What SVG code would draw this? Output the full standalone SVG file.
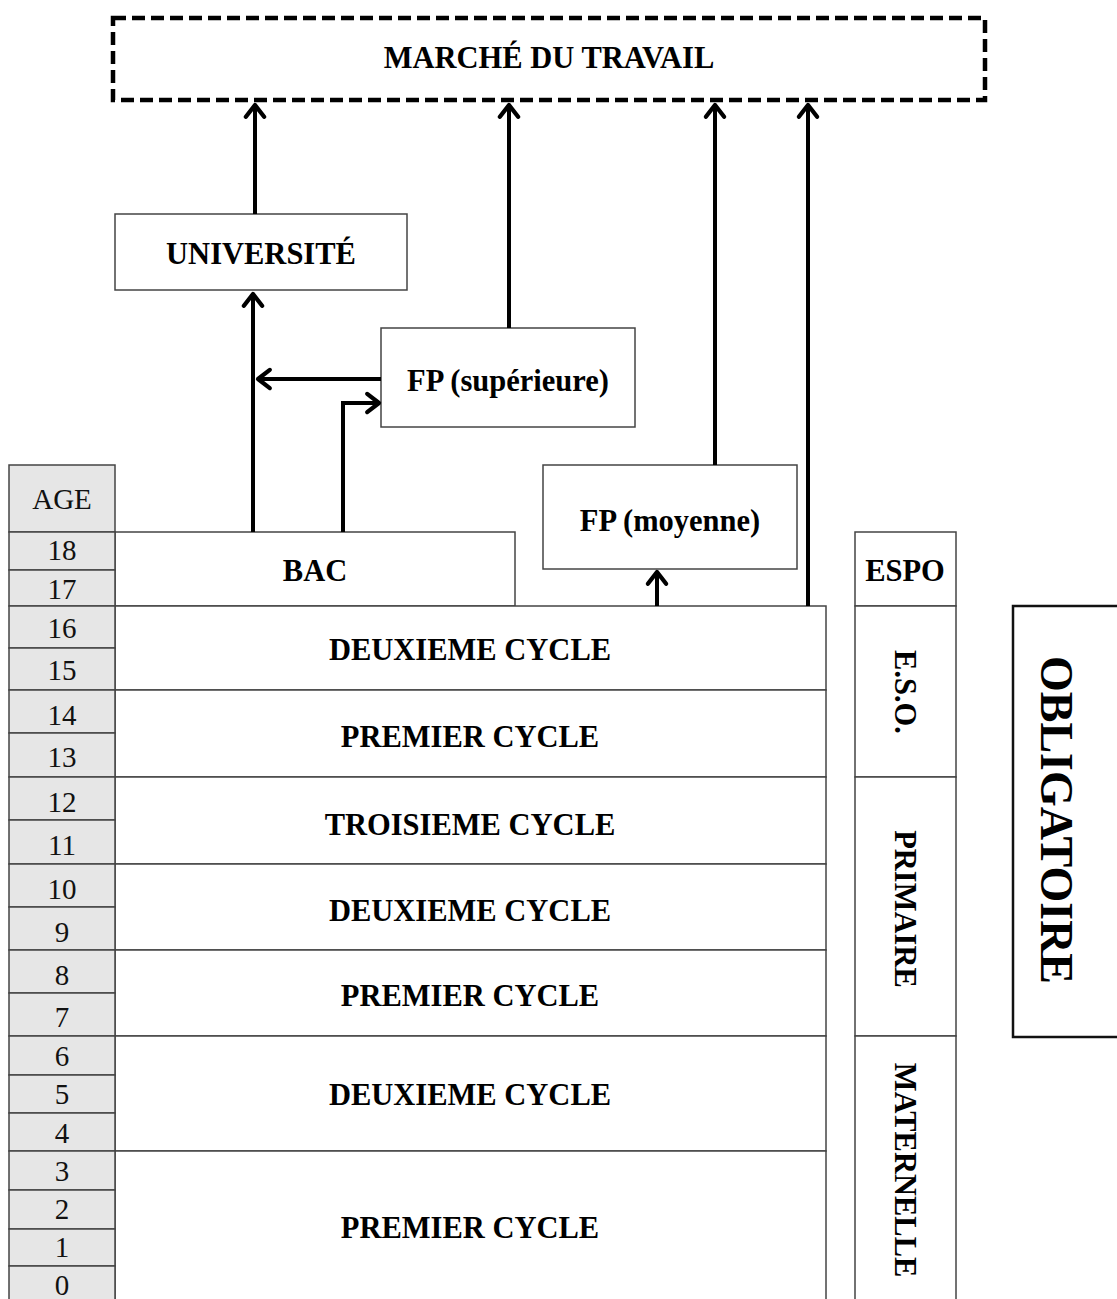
<svg xmlns="http://www.w3.org/2000/svg" width="1117" height="1299" viewBox="0 0 1117 1299">
<style>
  .box{fill:#fff;stroke:#444;stroke-width:1.5}
  .age{fill:#e6e6e6;stroke:#444;stroke-width:1.5}
  .lbl{font-family:"Liberation Serif","Times New Roman",serif;font-weight:bold;font-size:30.5px;fill:#000;text-anchor:middle}
  .num{font-family:"Liberation Serif","Times New Roman",serif;font-size:29px;fill:#111;text-anchor:middle}
  .conn{fill:none;stroke:#000;stroke-width:4}
</style>
<defs>
  <marker id="arr" markerUnits="userSpaceOnUse" markerWidth="30" markerHeight="30" viewBox="-16 -14 20 28" refX="0" refY="0" orient="auto">
    <path d="M -11 -8.5 L 0 0 L -11 8.5" fill="none" stroke="#000" stroke-width="4" stroke-linecap="round" stroke-linejoin="round"/>
  </marker>
</defs>
<rect width="1117" height="1299" fill="#fff"/>

<g id="marche">
  <rect x="113" y="18" width="872" height="82" fill="#fff" stroke="#000" stroke-width="4.5" stroke-dasharray="13 6"/>
  <text class="lbl" x="549" y="68">MARCHÉ DU TRAVAIL</text>
</g>

<g id="universite">
  <rect class="box" x="115" y="214" width="292" height="76"/>
  <text class="lbl" x="261" y="264">UNIVERSITÉ</text>
</g>

<g id="fp-superieure">
  <rect class="box" x="381" y="328" width="254" height="99"/>
  <text class="lbl" x="508" y="391">FP (supérieure)</text>
</g>

<g id="fp-moyenne">
  <rect class="box" x="543" y="465" width="254" height="104"/>
  <text class="lbl" x="670" y="531">FP (moyenne)</text>
</g>

<g id="bac">
  <rect class="box" x="115" y="532" width="400" height="74"/>
  <text class="lbl" x="315" y="581">BAC</text>
</g>

<g id="eso-deuxieme">
  <rect class="box" x="115" y="606" width="711" height="84"/>
  <text class="lbl" x="470" y="660">DEUXIEME CYCLE</text>
</g>
<g id="eso-premier">
  <rect class="box" x="115" y="690" width="711" height="87"/>
  <text class="lbl" x="470" y="747">PREMIER CYCLE</text>
</g>
<g id="primaire-troisieme">
  <rect class="box" x="115" y="777" width="711" height="87"/>
  <text class="lbl" x="470" y="835">TROISIEME CYCLE</text>
</g>
<g id="primaire-deuxieme">
  <rect class="box" x="115" y="864" width="711" height="86"/>
  <text class="lbl" x="470" y="921">DEUXIEME CYCLE</text>
</g>
<g id="primaire-premier">
  <rect class="box" x="115" y="950" width="711" height="86"/>
  <text class="lbl" x="470" y="1006">PREMIER CYCLE</text>
</g>
<g id="maternelle-deuxieme">
  <rect class="box" x="115" y="1036" width="711" height="115"/>
  <text class="lbl" x="470" y="1105">DEUXIEME CYCLE</text>
</g>
<g id="maternelle-premier">
  <rect class="box" x="115" y="1151" width="711" height="160"/>
  <text class="lbl" x="470" y="1238">PREMIER CYCLE</text>
</g>

<g id="age-column">
  <rect class="age" x="9" y="465" width="106" height="67"/>
  <text class="num" x="62" y="509">AGE</text>
  <rect class="age" x="9" y="532" width="106" height="38"/><text class="num" x="62" y="560">18</text>
  <rect class="age" x="9" y="570" width="106" height="36"/><text class="num" x="62" y="599">17</text>
  <rect class="age" x="9" y="606" width="106" height="42"/><text class="num" x="62" y="638">16</text>
  <rect class="age" x="9" y="648" width="106" height="42"/><text class="num" x="62" y="680">15</text>
  <rect class="age" x="9" y="690" width="106" height="43"/><text class="num" x="62" y="725">14</text>
  <rect class="age" x="9" y="733" width="106" height="44"/><text class="num" x="62" y="767">13</text>
  <rect class="age" x="9" y="777" width="106" height="43"/><text class="num" x="62" y="812">12</text>
  <rect class="age" x="9" y="820" width="106" height="44"/><text class="num" x="62" y="855">11</text>
  <rect class="age" x="9" y="864" width="106" height="43"/><text class="num" x="62" y="899">10</text>
  <rect class="age" x="9" y="907" width="106" height="43"/><text class="num" x="62" y="942">9</text>
  <rect class="age" x="9" y="950" width="106" height="43"/><text class="num" x="62" y="985">8</text>
  <rect class="age" x="9" y="993" width="106" height="43"/><text class="num" x="62" y="1027">7</text>
  <rect class="age" x="9" y="1036" width="106" height="39"/><text class="num" x="62" y="1066">6</text>
  <rect class="age" x="9" y="1075" width="106" height="38"/><text class="num" x="62" y="1104">5</text>
  <rect class="age" x="9" y="1113" width="106" height="38"/><text class="num" x="62" y="1143">4</text>
  <rect class="age" x="9" y="1151" width="106" height="39"/><text class="num" x="62" y="1181">3</text>
  <rect class="age" x="9" y="1190" width="106" height="39"/><text class="num" x="62" y="1219">2</text>
  <rect class="age" x="9" y="1229" width="106" height="37"/><text class="num" x="62" y="1257">1</text>
  <rect class="age" x="9" y="1266" width="106" height="45"/><text class="num" x="62" y="1295">0</text>
</g>

<g id="espo">
  <rect class="box" x="855" y="532" width="101" height="74"/>
  <text class="lbl" x="905" y="581">ESPO</text>
</g>
<g id="eso">
  <rect class="box" x="855" y="606" width="101" height="171"/>
  <text class="lbl" transform="translate(895 692) rotate(90)" x="0" y="0">E.S.O.</text>
</g>
<g id="primaire">
  <rect class="box" x="855" y="777" width="101" height="259"/>
  <text class="lbl" transform="translate(895 909) rotate(90)" x="0" y="0">PRIMAIRE</text>
</g>
<g id="maternelle">
  <rect class="box" x="855" y="1036" width="101" height="275"/>
  <text class="lbl" transform="translate(895 1170) rotate(90)" x="0" y="0">MATERNELLE</text>
</g>

<g id="obligatoire">
  <rect x="1013" y="606" width="120" height="431" fill="#fff" stroke="#111" stroke-width="2.5"/>
  <text class="lbl" style="font-size:46px" transform="translate(1041 820) rotate(90)" x="0" y="0">OBLIGATOIRE</text>
</g>

<g id="connectors">
  <line class="conn" x1="255" y1="214" x2="255" y2="105" marker-end="url(#arr)"/>
  <line class="conn" x1="509" y1="328" x2="509" y2="105" marker-end="url(#arr)"/>
  <line class="conn" x1="715" y1="465" x2="715" y2="105" marker-end="url(#arr)"/>
  <line class="conn" x1="808" y1="606" x2="808" y2="105" marker-end="url(#arr)"/>
  <line class="conn" x1="253" y1="532" x2="253" y2="294" marker-end="url(#arr)"/>
  <line class="conn" x1="381" y1="379" x2="258" y2="379" marker-end="url(#arr)"/>
  <polyline class="conn" points="343,532 343,403 379,403" marker-end="url(#arr)"/>
  <line class="conn" x1="657" y1="606" x2="657" y2="572" marker-end="url(#arr)"/>
</g>
</svg>
